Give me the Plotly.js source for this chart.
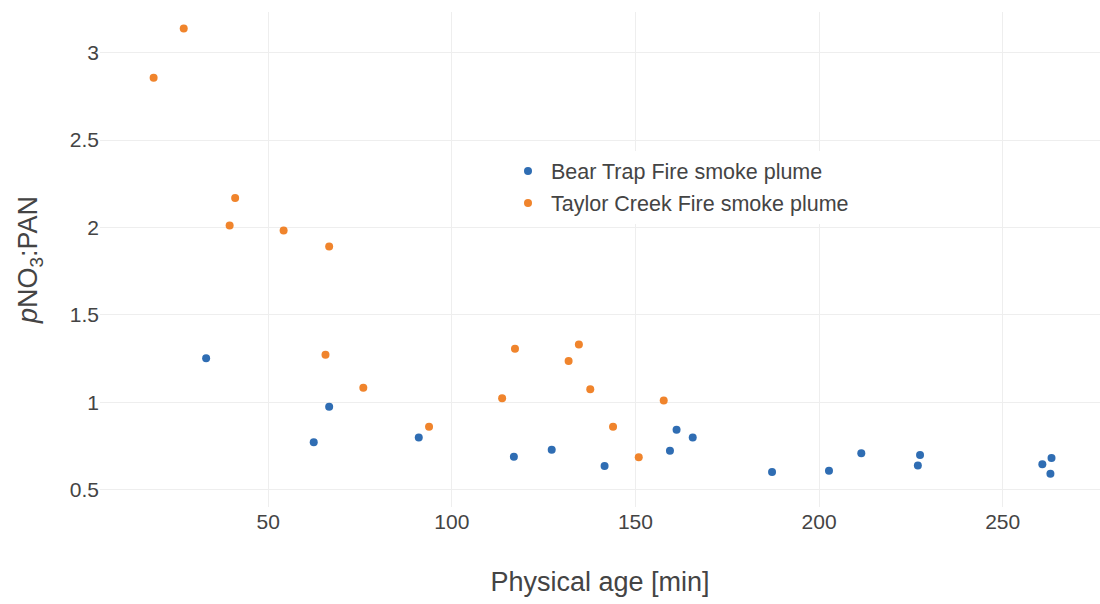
<!DOCTYPE html>
<html>
<head>
<meta charset="utf-8">
<script src="https://cdn.plot.ly/plotly-3.0.1.min.js"></script>
<style>html,body{margin:0;padding:0;background:#fff;}#chart{width:1100px;height:604px;}</style>
</head>
<body>
<div id="chart"></div>
<script>
const bearName = "Bear Trap Fire smoke plume";
const bearAge = [33.1, 62.4, 66.6, 91.0, 116.9, 127.2, 141.6, 159.4, 161.2, 165.6, 187.2, 202.7, 211.5, 226.9, 227.5, 260.8, 263.0, 263.3];
const bearRatio = [1.251, 0.770, 0.974, 0.798, 0.687, 0.728, 0.634, 0.722, 0.842, 0.798, 0.601, 0.607, 0.708, 0.638, 0.697, 0.645, 0.590, 0.680];

const taylorName = "Taylor Creek Fire smoke plume";
const taylorAge = [18.8, 27.0, 39.5, 41.0, 54.2, 65.6, 66.6, 75.9, 93.8, 113.7, 117.2, 131.8, 134.6, 137.7, 143.9, 150.9, 157.7];
const taylorRatio = [2.857, 3.139, 2.011, 2.168, 1.983, 1.271, 1.891, 1.083, 0.859, 1.022, 1.305, 1.236, 1.330, 1.074, 0.859, 0.685, 1.009];

const xTitle = "Physical age [min]";
const yTitle = "<i>p</i>NO<sub>3</sub>:PAN";

const traces = [
  {x: bearAge, y: bearRatio, name: bearName, type: "scatter", mode: "markers",
   legendgroup: "a", marker: {color: "#2f6db3", size: 8}},
  {x: taylorAge, y: taylorRatio, name: taylorName, type: "scatter", mode: "markers",
   legendgroup: "b", marker: {color: "#f0842c", size: 8}}
];

const layout = {
  width: 1100, height: 604,
  paper_bgcolor: "#fff", plot_bgcolor: "#fff",
  margin: {l: 100, r: 0, t: 12, b: 97, pad: 0},
  font: {family: "Liberation Sans, Arial, sans-serif", color: "#444", size: 21},
  showlegend: true,
  legend: {x: 0.405, y: 0.72, xanchor: "left", yanchor: "top", bgcolor: "#fff",
           font: {size: 21.5, color: "#444"}, tracegroupgap: 1, itemwidth: 36},
  xaxis: {
    range: [4.2, 276.5], tickvals: [50, 100, 150, 200, 250],
    showgrid: true, gridcolor: "#eeeeee", zeroline: false, showline: false,
    tickfont: {size: 21, color: "#444"}, automargin: false,
    title: {text: xTitle, font: {size: 27, color: "#444"}, standoff: 40}
  },
  yaxis: {
    range: [0.40, 3.233], tickvals: [0.5, 1, 1.5, 2, 2.5, 3],
    ticktext: ["0.5", "1", "1.5", "2", "2.5", "3"],
    showgrid: true, gridcolor: "#eeeeee", zeroline: false, showline: false,
    tickfont: {size: 21, color: "#444"}, automargin: false,
    title: {text: yTitle, font: {size: 27, color: "#444"}, standoff: 24}
  }
};

Plotly.newPlot("chart", traces, layout, {displayModeBar: false, staticPlot: true});
</script>
</body>
</html>
